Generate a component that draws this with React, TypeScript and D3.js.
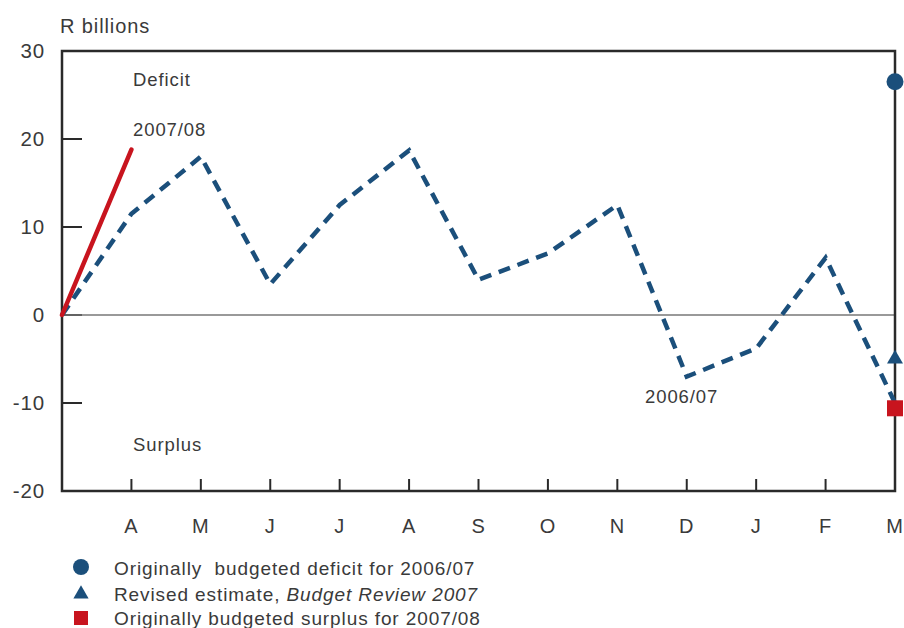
import React from "react";
import * as d3 from "d3";

const months = ["", "A", "M", "J", "J", "A", "S", "O", "N", "D", "J", "F", "M"];
const series0607 = [0, 11.5, 18, 3.5, 12.5, 18.7, 4, 7, 12.5, -7, -3.8, 6.5, -10];
const series0708 = [0, 18.8];
const budgetedDeficit = 26.5;
const revisedEstimate = -5;
const budgetedSurplus = -10.6;
const yTicks = [30, 20, 10, 0, -10, -20];

const BLUE = "#1b4f7b";
const RED = "#c8141e";
const TEXT = "#3a3a3a";
const FONT = "'Liberation Sans', Arial, sans-serif";

export default function App() {
  const left = 62, right = 895, top = 51, bottom = 491;
  const x = d3.scaleLinear().domain([0, 12]).range([left, right]);
  const y = d3.scaleLinear().domain([-20, 30]).range([bottom, top]);
  const line = d3.line<number>().x((_, i) => x(i)).y((d) => y(d));
  const tri = d3.symbol().type(d3.symbolTriangle).size(110)();

  return (
    <svg width={904} height={628} style={{ position: "absolute", left: 0, top: 0, fontFamily: FONT, letterSpacing: "0.9px" }}>
      <rect width={904} height={628} fill="#fff" />
      <text x={60} y={33} fontSize={20} fill={TEXT}>R billions</text>
      {yTicks.map((t) => (
        <g key={t}>
          <text x={45} y={y(t) + 7} fontSize={20.5} fill={TEXT} textAnchor="end">{t}</text>
          {t !== 30 && t !== -20 && (
            <line x1={left} x2={left + 20} y1={y(t)} y2={y(t)} stroke="#2a2a2a" strokeWidth={2} />
          )}
        </g>
      ))}
      <line x1={left} x2={right} y1={y(0)} y2={y(0)} stroke="#777" strokeWidth={1.3} />
      {months.map((m, i) => (
        i > 0 && (
          <g key={i}>
            <line x1={x(i)} x2={x(i)} y1={bottom} y2={bottom - 12} stroke="#2a2a2a" strokeWidth={2} />
            <text x={x(i)} y={533} fontSize={20} fill={TEXT} textAnchor="middle">{m}</text>
          </g>
        )
      ))}
      <rect x={left} y={top} width={right - left} height={bottom - top} fill="none" stroke="#2a2a2a" strokeWidth={2.5} />
      <path d={line(series0607) || ""} fill="none" stroke={BLUE} strokeWidth={4.5} strokeDasharray="12 8" />
      <path d={line(series0708) || ""} fill="none" stroke={RED} strokeWidth={4.5} strokeLinecap="round" />
      <circle cx={x(12)} cy={y(budgetedDeficit)} r={8.5} fill={BLUE} />
      <path d={tri || ""} transform={`translate(${x(12)},${y(revisedEstimate)})`} fill={BLUE} />
      <rect x={x(12) - 8} y={y(budgetedSurplus) - 8} width={16} height={16} fill={RED} />
      <text x={133} y={86} fontSize={18.5} fill={TEXT}>Deficit</text>
      <text x={133} y={136} fontSize={18.5} fill={TEXT}>2007/08</text>
      <text x={645} y={403} fontSize={18.5} fill={TEXT}>2006/07</text>
      <text x={133} y={451} fontSize={18.5} fill={TEXT}>Surplus</text>
      <circle cx={81} cy={567} r={8} fill={BLUE} />
      <path d={d3.symbol().type(d3.symbolTriangle).size(100)() || ""} transform="translate(81,594)" fill={BLUE} />
      <rect x={74} y={611} width={14} height={14} fill={RED} />
      <text x={114} y={575} fontSize={19} fill={TEXT} xmlSpace="preserve">Originally  budgeted deficit for 2006/07</text>
      <text x={114} y={601} fontSize={19} fill={TEXT}>Revised estimate, <tspan fontStyle="italic">Budget Review 2007</tspan></text>
      <text x={114} y={625} fontSize={19} fill={TEXT}>Originally budgeted surplus for 2007/08</text>
    </svg>
  );
}
